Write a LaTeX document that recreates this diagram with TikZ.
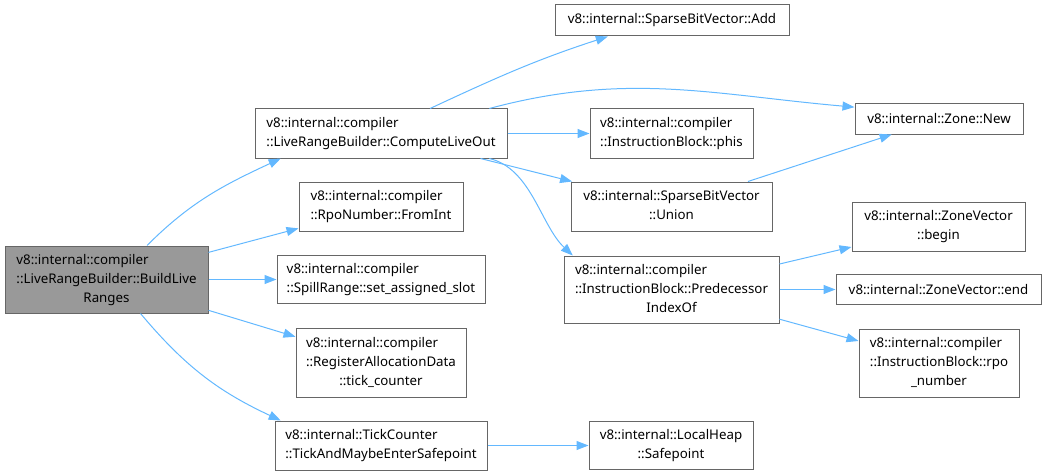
\documentclass[tikz,border=0pt]{standalone}
\usepackage{fontspec}
\setmainfont{Noto Sans}
\usepackage{tikz}
\usetikzlibrary{arrows.meta}
\definecolor{edgeblue}{RGB}{99,184,255}
\definecolor{boxgray}{RGB}{102,102,102}
\definecolor{rootgray}{RGB}{153,153,153}
% left lines, last line centred
\newcommand{\lbl}[2]{\begin{tabular}{@{}l@{}}#1\\\multicolumn{1}{@{}c@{}}{#2}\end{tabular}}
\tikzset{
  fn/.style 2 args={rectangle, draw=boxgray, fill=white, inner sep=0pt,
    line width=1pt, minimum width=#1pt, minimum height=#2pt},
  rootfn/.style 2 args={fn={#1}{#2}, fill=rootgray},
  call/.style={-{Triangle[length=12pt,width=9pt]}, line width=1pt, color=edgeblue}
}

\begin{document}
\begin{tikzpicture}[x=1pt, y=1pt, every node/.style={font=\fontsize{13.3}{19}\selectfont}]
  \useasboundingbox (0,0) rectangle (1047,475);

  % Caller
  \node[rootfn={203}{67}] (build) at (106.5,195.5) {\lbl{v8::internal::compiler\\::LiveRangeBuilder::BuildLive}{Ranges}};

  % First level
  \node[fn={252}{49}] (liveout) at (381,341.5) {\lbl{v8::internal::compiler}{::LiveRangeBuilder::ComputeLiveOut}};
  \node[fn={164}{49}] (fromint) at (381,268.5) {\lbl{v8::internal::compiler}{::RpoNumber::FromInt}};
  \node[fn={208}{48}] (slot) at (381,195.5) {\lbl{v8::internal::compiler}{::SpillRange::set\_assigned\_slot}};
  \node[fn={170}{69}] (tick) at (381,112.5) {\lbl{v8::internal::compiler\\::RegisterAllocationData}{::tick\_counter}};
  \node[fn={212}{49}] (maybesafe) at (381,29.5) {\lbl{v8::internal::TickCounter}{::TickAndMaybeEnterSafepoint}};

  % Second level
  \node[fn={234}{31}] (add) at (672,454.5) {v8::internal::SparseBitVector::Add};
  \node[fn={163}{49}] (phis) at (671.5,341.5) {\lbl{v8::internal::compiler}{::InstructionBlock::phis}};
  \node[fn={201}{49}] (union) at (671.5,268.5) {\lbl{v8::internal::SparseBitVector}{::Union}};
  \node[fn={215}{67}] (predidx) at (671.5,185.5) {\lbl{v8::internal::compiler\\::InstructionBlock::Predecessor}{IndexOf}};
  \node[fn={164}{48}] (safepoint) at (671,29.5) {\lbl{v8::internal::LocalHeap}{::Safepoint}};

  % Third level
  \node[fn={168}{30}] (zonenew) at (939,356) {v8::internal::Zone::New};
  \node[fn={173}{49}] (zvbegin) at (938.5,248.5) {\lbl{v8::internal::ZoneVector}{::begin}};
  \node[fn={205}{30}] (zvend) at (938.5,185.5) {v8::internal::ZoneVector::end};
  \node[fn={160}{68}] (rpo) at (939,112) {\lbl{v8::internal::compiler\\::InstructionBlock::rpo}{\_number}};

  % Calls
  \draw[call] (build.40) to[out=45,in=205] (liveout.194);
  \draw[call] (build) -- (fromint);
  \draw[call] (build) -- (slot);
  \draw[call] (build) -- (tick);
  \draw[call] (build.-45) to[out=-50,in=155] (maybesafe.166);
  \draw[call] (liveout.27) to[out=25,in=198] (add.194);
  \draw[call] (liveout.13) to[out=15,in=175] (zonenew.172);
  \draw[call] (liveout) -- (phis);
  \draw[call] (liveout) -- (union);
  \draw[call] (liveout.-13) .. controls +(42,-10) and +(-32,30) .. (predidx.161);
  \draw[call] (union) -- (zonenew);
  \draw[call] (predidx) -- (zvbegin);
  \draw[call] (predidx) -- (zvend);
  \draw[call] (predidx) -- (rpo);
  \draw[call] (maybesafe) -- (safepoint);
\end{tikzpicture}
\end{document}
